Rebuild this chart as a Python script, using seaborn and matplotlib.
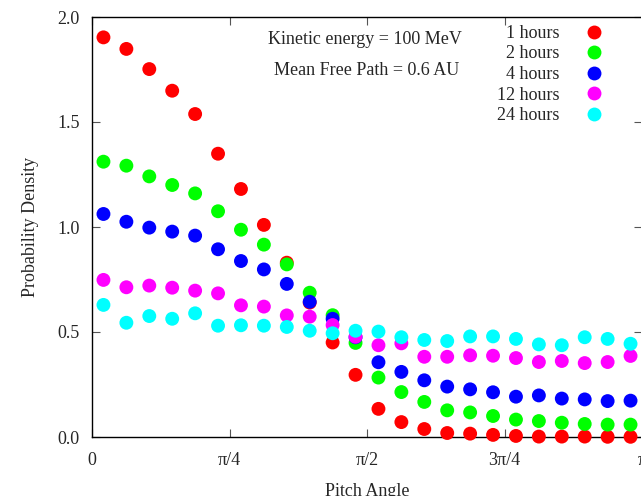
import numpy as np
import pandas as pd
import matplotlib
matplotlib.use("Agg")
import matplotlib.pyplot as plt
from matplotlib.lines import Line2D
import seaborn as sns

# ---- data -------------------------------------------------------------
series_labels = ["1 hours", "2 hours", "4 hours", "12 hours", "24 hours"]
series_colors = ["#ff0000", "#00ff00", "#0000ff", "#ff00ff", "#00ffff"]

n_bins = 24
pitch_angle = (np.arange(n_bins) + 0.5) * np.pi / n_bins  # bin centres

h1 = [1.903, 1.848, 1.752, 1.649, 1.538, 1.349, 1.181, 1.010, 0.830, 0.640, 0.450, 0.296,
      0.134, 0.071, 0.038, 0.019, 0.016, 0.010, 0.005, 0.002, 0.002, 0.002, 0.001, 0.001]
h2 = [1.311, 1.292, 1.241, 1.200, 1.160, 1.075, 0.987, 0.916, 0.822, 0.687, 0.580, 0.448,
      0.283, 0.214, 0.167, 0.127, 0.117, 0.100, 0.083, 0.076, 0.068, 0.062, 0.059, 0.059]
h4 = [1.062, 1.025, 0.997, 0.978, 0.959, 0.894, 0.838, 0.798, 0.729, 0.644, 0.563, 0.475,
      0.356, 0.310, 0.270, 0.240, 0.227, 0.213, 0.192, 0.198, 0.183, 0.179, 0.171, 0.173]
h12 = [0.748, 0.713, 0.721, 0.711, 0.697, 0.684, 0.627, 0.621, 0.579, 0.573, 0.533, 0.477,
       0.437, 0.446, 0.382, 0.382, 0.389, 0.387, 0.376, 0.357, 0.362, 0.352, 0.357, 0.386]
h24 = [0.629, 0.544, 0.576, 0.563, 0.589, 0.530, 0.532, 0.530, 0.524, 0.506, 0.494, 0.506,
       0.502, 0.475, 0.462, 0.457, 0.479, 0.479, 0.467, 0.441, 0.437, 0.475, 0.467, 0.444]

x_tick_vals = [0, np.pi / 4, np.pi / 2, 3 * np.pi / 4, np.pi]
x_tick_labels = ["0", "π/4", "π/2", "3π/4", "π"]
y_tick_vals = [0.0, 0.5, 1.0, 1.5, 2.0]

# ---- build table --------------------------------------------------------
all_series = [h1, h2, h4, h12, h24]
frames = []
for lab, vals in zip(series_labels, all_series):
    frames.append(pd.DataFrame({"angle": pitch_angle, "density": vals, "time": lab}))
df = pd.concat(frames, ignore_index=True)

# ---- plot ---------------------------------------------------------------
sns.set_style("ticks")
plt.rcParams["font.family"] = ["Liberation Serif", "DejaVu Serif"]

fig = plt.figure(figsize=(6.41, 4.96), dpi=100)
ax = fig.add_axes([92 / 641, 1 - 437 / 496, 550 / 641, 420 / 496])

sns.scatterplot(data=df, x="angle", y="density", hue="time", hue_order=series_labels,
                palette=series_colors, s=100, linewidth=0, ax=ax, legend=False,
                clip_on=False, zorder=3)

ax.set_xlim(0, np.pi)
ax.set_ylim(0, 2.0)
ax.set_xticks(x_tick_vals)
ax.set_xticklabels(x_tick_labels)
ax.set_yticks(y_tick_vals)
ax.set_yticklabels([f"{v:.1f}" for v in y_tick_vals])
ax.tick_params(direction="in", length=6, width=0.8, labelsize=13,
               top=True, right=True, color="#555555")
ax.tick_params(axis="y", pad=9)
ax.tick_params(axis="x", pad=11)
for sp in ax.spines.values():
    sp.set_visible(True)
    sp.set_linewidth(1.0)
    sp.set_color("black")

ax.set_xlabel("Pitch Angle", fontsize=13, labelpad=10)
ax.set_ylabel("Probability Density", fontsize=13, labelpad=13)

ax.text(0.497, 0.946, "Kinetic energy = 100 MeV", transform=ax.transAxes,
        ha="center", va="center", fontsize=13)
ax.text(0.500, 0.873, "Mean Free Path = 0.6 AU", transform=ax.transAxes,
        ha="center", va="center", fontsize=13)

handles = [Line2D([], [], linestyle="none", marker="o", markersize=10,
                  markerfacecolor=c, markeredgewidth=0) for c in series_colors]
leg = ax.legend(handles, series_labels, loc="upper right", bbox_to_anchor=(0.975, 1.02),
                frameon=False, markerfirst=False, fontsize=13, labelspacing=0.2,
                handletextpad=0.9, handlelength=2.0, borderpad=0.4)

fig.savefig("out.png", dpi=100)
